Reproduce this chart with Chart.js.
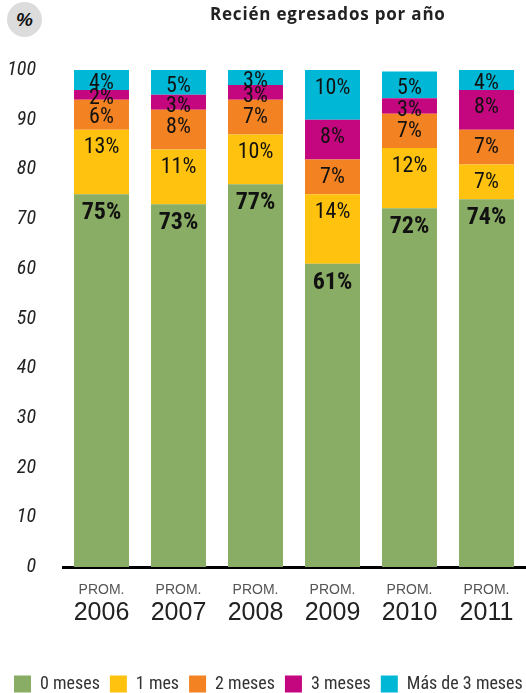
<!DOCTYPE html>
<html>
<head>
<meta charset="utf-8">
<script src="https://cdn.jsdelivr.net/npm/chart.js@4"></script>
<style>
  html, body { margin: 0; padding: 0; background: #fff; overflow: hidden; }
  #wrap { position: relative; width: 526px; height: 693px; overflow: hidden; }
  #chart { position: absolute; left: 0; top: 0; }
  .badge { position: absolute; left: 7px; top: 2px; width: 35px; height: 35px; border-radius: 50%;
           background: #dcdcdc; font: italic bold 19px 'Liberation Sans', sans-serif; color: #111;
           text-align: center; line-height: 35px; }
  .title { position: absolute; left: 210px; top: 2px; font: bold 17px 'Open Sans', sans-serif;
           letter-spacing: 0.8px; color: #222; white-space: nowrap; }
</style>
</head>
<body>
<div id="wrap">
  <canvas id="chart" width="600" height="703"></canvas>
  <div class="badge">%</div>
  <div class="title">Recién egresados por año</div>
</div>
<script>
// data
const years = ['2006', '2007', '2008', '2009', '2010', '2011'];
const prefix = 'PROM.';
const seriesNames = ['0 meses', '1 mes', '2 meses', '3 meses', 'Más de 3 meses'];
const meses0 = [75, 73, 77, 61, 72.2, 74];
const mes1 = [13, 11, 10, 14, 12.1, 7];
const meses2 = [6, 8, 7, 7, 6.9, 7];
const meses3 = [2, 3, 3, 8, 3.1, 8];
const masDe3 = [4, 5, 3, 10, 5.4, 4];
const yTicks = [0, 10, 20, 30, 40, 50, 60, 70, 80, 90, 100];

const colors = ['#8aad65', '#ffc20e', '#f28222', '#c4077e', '#00b8d5'];
const narrow = "'Roboto Condensed', 'Liberation Sans Narrow', sans-serif";
const plain = "'Liberation Sans', Arial, sans-serif";

// percentage text inside each segment
const segmentLabels = {
    id: 'segmentLabels',
    afterDatasetsDraw(chart) {
        const ctx = chart.ctx;
        ctx.save();
        ctx.textAlign = 'center';
        ctx.textBaseline = 'middle';
        ctx.fillStyle = '#111';
        chart.data.datasets.forEach((ds, i) => {
            const meta = chart.getDatasetMeta(i);
            meta.data.forEach((bar, j) => {
                const top = Math.min(bar.y, bar.base);
                const h = Math.abs(bar.base - bar.y);
                const bold = i === 0;
                ctx.font = (bold ? 'bold 24px ' : '22px ') + narrow;
                const y = top + 1 + (bold ? 18 : Math.min(h / 2 + 3, 17));
                ctx.fillText(Math.round(ds.data[j]) + '%', bar.x, y);
            });
        });
        ctx.restore();
    }
};

const values = [meses0, mes1, meses2, meses3, masDe3];

let ctx = document.getElementById('chart');
let barChart = new Chart(ctx, {
    type: 'bar',
    data: {
        labels: years,
        datasets: seriesNames.map((name, i) => ({
            label: name,
            data: values[i],
            backgroundColor: colors[i],
            borderWidth: 0,
            barPercentage: 0.714,
            categoryPercentage: 1
        }))
    },
    options: {
        responsive: false,
        animation: false,
        layout: { padding: { top: 70, left: 4, right: 0, bottom: 0 } },
        plugins: {
            tooltip: { enabled: false },
            legend: {
                position: 'bottom',
                align: 'start',
                labels: {
                    boxWidth: 17,
                    boxHeight: 17,
                    padding: 10,
                    color: '#333',
                    font: { family: narrow, size: 18 }
                }
            }
        },
        scales: {
            x: {
                stacked: true,
                z: 1,
                grid: { display: false, drawTicks: false },
                border: { display: true, color: '#000', width: 3 },
                afterFit: s => { s.height = 31; },
                ticks: {
                    callback: () => prefix,
                    color: '#555',
                    padding: 15,
                    font: { family: plain, size: 14 }
                }
            },
            x2: {
                type: 'category',
                position: 'bottom',
                grid: { display: false, drawTicks: false },
                border: { display: false },
                afterFit: s => { s.height = 67; },
                ticks: {
                    color: '#222',
                    padding: 0,
                    font: { family: plain, size: 25 }
                }
            },
            y: {
                stacked: true,
                min: 0,
                max: 100,
                grid: { display: false, drawTicks: false },
                border: { display: false },
                afterBuildTicks: s => { s.ticks = yTicks.map(v => ({ value: v })); },
                afterFit: s => { s.width = 59; },
                ticks: {
                    color: '#222',
                    padding: 27,
                    font: { family: narrow, size: 20, style: 'italic' }
                }
            },
            yr: {
                position: 'right',
                grid: { display: false, drawTicks: false },
                border: { display: false },
                ticks: { display: false },
                afterFit: s => { s.width = 75; }
            }
        }
    },
    plugins: [segmentLabels]
});
</script>
</body>
</html>
